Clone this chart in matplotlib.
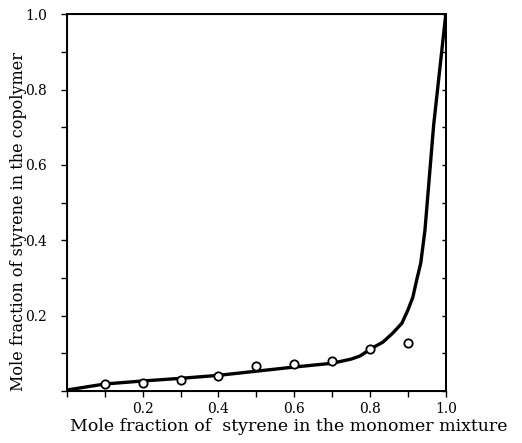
#!/usr/bin/env python3
# coding: utf-8

import matplotlib
matplotlib.use('Agg')
import matplotlib.pyplot as plt
from matplotlib.ticker import MultipleLocator

# curva (fracao no monomero, fracao no copolimero)
curva_x = [0.0, 0.1, 0.2, 0.3, 0.4, 0.5, 0.6, 0.7, 0.75, 0.773, 0.805,
           0.834, 0.86, 0.884, 0.9, 0.913, 0.923, 0.934, 0.945, 0.968, 1.0]
curva_y = [0.003, 0.019, 0.027, 0.034, 0.042, 0.053, 0.064, 0.074, 0.085,
           0.093, 0.114, 0.130, 0.154, 0.180, 0.215, 0.249, 0.294, 0.340,
           0.427, 0.706, 1.0]

# pontos experimentais
pontos_x = [0.1, 0.2, 0.3, 0.4, 0.5, 0.6, 0.7, 0.8, 0.9]
pontos_y = [0.019, 0.021, 0.029, 0.040, 0.066, 0.072, 0.080, 0.111, 0.127]

ticks_rotulos = [0.2, 0.4, 0.6, 0.8, 1.0]


def desenha():
    plt.rcParams['font.family'] = ['DejaVu Serif']
    fig = plt.figure(figsize=(5.22, 4.43), dpi=100)
    ax = fig.add_axes([0.128, 0.117, 0.726, 0.851])

    ax.plot(curva_x, curva_y, color='black', linewidth=2.4,
            solid_capstyle='round', solid_joinstyle='round')
    ax.plot(pontos_x, pontos_y, linestyle='none', marker='o', markersize=6,
            markerfacecolor='white', markeredgecolor='black', markeredgewidth=1.3)

    ax.set_xlim(0, 1)
    ax.set_ylim(0, 1)
    for lado in ax.spines.values():
        lado.set_linewidth(1.4)

    ax.set_xticks(ticks_rotulos)
    ax.set_yticks(ticks_rotulos)
    ax.set_xticklabels(['%.1f' % t for t in ticks_rotulos])
    ax.set_yticklabels(['%.1f' % t for t in ticks_rotulos])
    ax.xaxis.set_minor_locator(MultipleLocator(0.1))
    ax.yaxis.set_minor_locator(MultipleLocator(0.1))

    ax.tick_params(axis='both', which='both', direction='out', length=4, width=1,
                   labelsize=10, top=False, right=False)
    ax.tick_params(axis='y', which='both', pad=10)
    # marcas internas no eixo direito
    ax2 = ax.twinx()
    ax2.set_ylim(0, 1)
    ax2.yaxis.set_major_locator(MultipleLocator(0.1))
    ax2.tick_params(axis='y', direction='in', length=3, width=1, labelright=False)
    ax2.spines['right'].set_linewidth(1.4)

    ax.set_xlabel('Mole fraction of  styrene in the monomer mixture', fontsize=12.5)
    ax.xaxis.set_label_coords(0.585, -0.072)
    ax.set_ylabel('Mole fraction of styrene in the copolymer', fontsize=11.5)
    ax.yaxis.set_label_coords(-0.105, 0.45)

    fig.savefig('out.png', dpi=100)


if __name__ == '__main__':
    desenha()
